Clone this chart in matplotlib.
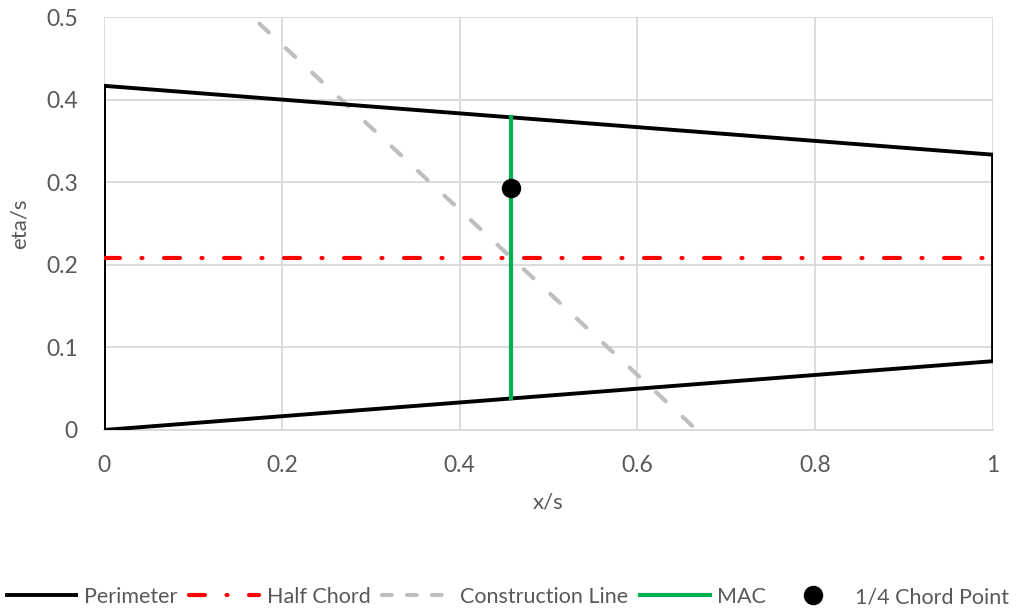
import numpy as np
import matplotlib.pyplot as plt
from matplotlib.lines import Line2D

plt.rcParams['font.family'] = ['Lato', 'DejaVu Sans']
plt.rcParams['lines.scale_dashes'] = False

# wing planform, normalised by semi-span s
perim_x = [0, 0, 1, 1, 0]
perim_y = [0, 0.4167, 0.3333, 0.0833, 0]

half_x = [0, 1]
half_y = [0.2083, 0.2083]

constr_x = [0, 1]
constr_y = [0.6667, -0.3333]

mac_x = [0.4583, 0.4583]
mac_y = [0.0382, 0.3785]

qc_x = [0.4583]
qc_y = [0.2934]

txt = '#595959'
grid = '#d9d9d9'

fig = plt.figure(figsize=(10.16, 6.12), dpi=100)
ax = fig.add_axes([0.1024, 0.2974, 0.875, 0.6748])

p1, = ax.plot(perim_x, perim_y, color='black', lw=2.8, solid_joinstyle='miter',
              label='Perimeter', zorder=3)
p2, = ax.plot(half_x, half_y, color='#ff0000', lw=3, dashes=(11.5, 15.5, 0.7, 15.5),
              dash_capstyle='round', label='Half Chord', zorder=3)
ax.plot(constr_x, constr_y, color='#bfbfbf', lw=3, dashes=(9.4, 16.6),
        dash_capstyle='round', zorder=2)
p4, = ax.plot(mac_x, mac_y, color='#00b050', lw=3, label='MAC', zorder=4)
p5, = ax.plot(qc_x, qc_y, 'o', color='black', ms=13, label='1/4 Chord Point', zorder=5)

# shorter dashes so the legend sample shows three dashes
p3 = Line2D([], [], color='#bfbfbf', lw=3, dashes=(7, 11),
            dash_capstyle='round', label='Construction Line')

ax.set_xlim(0, 1)
ax.set_ylim(0, 0.5)
ax.set_xticks(np.arange(0, 1.01, 0.2))
ax.set_yticks(np.arange(0, 0.51, 0.1))
ax.set_xticklabels(['0', '0.2', '0.4', '0.6', '0.8', '1'])
ax.set_yticklabels(['0', '0.1', '0.2', '0.3', '0.4', '0.5'])
ax.grid(True, color=grid, lw=1.3)
ax.set_axisbelow(True)
for side in ['top', 'right', 'left']:
    ax.spines[side].set_visible(False)
ax.spines['bottom'].set_color(grid)
ax.spines['bottom'].set_linewidth(1.3)
ax.tick_params(length=0, labelsize=16.5, labelcolor=txt)
ax.tick_params(axis='x', pad=18)
ax.tick_params(axis='y', pad=19)

ax.set_xlabel('x/s', fontsize=16, color=txt, labelpad=12)
ax.set_ylabel('eta/s', fontsize=16, color=txt, labelpad=12)

fig.legend(handles=[p1, p2, p3, p4, p5], loc='center', bbox_to_anchor=(0.5, 0.0245),
           ncol=5, frameon=False, fontsize=15.5, labelcolor=txt, handlelength=3.25,
           handletextpad=0.35, columnspacing=0.55)

fig.savefig('out.png', dpi=100)
